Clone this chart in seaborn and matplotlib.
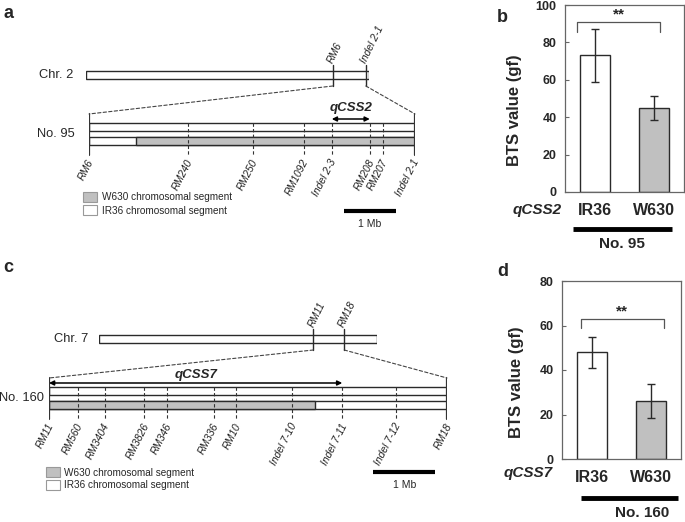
import matplotlib
matplotlib.use("Agg")
import matplotlib.pyplot as plt
from matplotlib.patches import Rectangle, Patch, ConnectionPatch
import seaborn as sns
import pandas as pd

W, H = 685, 522

# panel a: chromosome 2 overview and line No. 95 (positions in Mb)
chr2_len = 35.9
chr2_marks = ["RM6", "Indel 2-1"]
chr2_pos = [31.3, 35.5]
a_marks = ["RM6", "RM240", "RM250", "RM1092", "Indel 2-3", "RM208", "RM207", "Indel 2-1"]
a_pos = [0.0, 1.90, 3.15, 4.13, 4.67, 5.40, 5.65, 6.27]
a_w630 = [0.90, 6.27]
a_qtl = ["Indel 2-3", "RM208"]

# panel c: chromosome 7 overview and line No. 160
chr7_len = 29.7
chr7_marks = ["RM11", "RM18"]
chr7_pos = [22.9, 26.2]
c_marks = ["RM11", "RM560", "RM3404", "RM3826", "RM346", "RM336", "RM10",
           "Indel 7-10", "Indel 7-11", "Indel 7-12", "RM18"]
c_pos = [0.0, 0.47, 0.90, 1.53, 1.90, 2.66, 3.02, 3.92, 4.73, 5.60, 6.42]
c_w630 = [0.0, 4.29]
c_qtl = ["RM11", "Indel 7-11"]

# panels b, d: BTS values
genotypes = ["IR36", "W630"]
b_mean = [73, 45]
b_err = [14, 6.5]
d_mean = [48, 26]
d_err = [7, 7.5]

GRAY = "#c0c0c0"
EDGE = "#2a2a2a"

sns.set_theme(style="white")
plt.rcParams["font.family"] = ["Liberation Sans", "DejaVu Sans"]

fig = plt.figure(figsize=(W / 100, H / 100), dpi=100)


def px_axes(x0, x1, y0, y1, xlim, top=0):
    # axes placed by pixel box; y data = pixel rows relative to panel top
    ax = fig.add_axes([x0 / W, 1 - y1 / H, (x1 - x0) / W, (y1 - y0) / H])
    ax.set_xlim(*xlim)
    ax.set_ylim(y1 - top, y0 - top)
    ax.axis("off")
    return ax


def draw_map(ov, det, chr_len, ov_names, ov_pos, names, pos, w630, qtl, qname,
             chr_name, line_name, chr_lab_x, line_lab_x, qname_y):
    # chromosome overview
    ov.add_patch(Rectangle((0, 71), chr_len, 8, fc="white", ec=EDGE, lw=1))
    for n, p in zip(ov_names, ov_pos):
        ov.plot([p, p], [65, 86], color=EDGE, lw=1)
        ov.text(p - 0.3, 63, n, rotation=64, rotation_mode="anchor", ha="left",
                va="center", fontsize=7.5, style="italic", color="#222")
    ov.text(chr_lab_x, 75, chr_name, transform=ov.get_yaxis_transform(),
            ha="right", va="center", fontsize=9.3)
    # dashed zoom lines
    for p_ov, p_det in [(ov_pos[0], pos[0]), (ov_pos[-1], pos[-1])]:
        con = ConnectionPatch(xyA=(p_ov, 86), coordsA=ov.transData,
                              xyB=(p_det, 114), coordsB=det.transData,
                              color="#444", lw=0.8, ls=(0, (3, 2)))
        fig.add_artist(con)
    # detailed map
    full = pos[-1] - pos[0]
    for p in (pos[0], pos[-1]):
        det.plot([p, p], [114, 155], color="#333", lw=1.6)
    det.add_patch(Rectangle((pos[0], 123), full, 8, fc="white", ec=EDGE, lw=1))
    det.add_patch(Rectangle((pos[0], 137), full, 8, fc="white", ec=EDGE, lw=1))
    det.add_patch(Rectangle((w630[0], 137), w630[1] - w630[0], 8, fc=GRAY,
                            ec=EDGE, lw=1))
    for n, p in zip(names, pos):
        if p not in (pos[0], pos[-1]):
            det.plot([p, p], [123, 155], color="#333", lw=0.8, ls=(0, (3, 2)))
        det.text(p + 0.04, 160, n, rotation=63, rotation_mode="anchor",
                 ha="right", va="center", fontsize=7.5, style="italic", color="#222")
    q0 = pos[names.index(qtl[0])]
    q1 = pos[names.index(qtl[1])]
    det.annotate("", xy=(q0, 119), xytext=(q1, 119),
                 arrowprops=dict(arrowstyle="<|-|>", color="black", lw=1.1,
                                 mutation_scale=7, shrinkA=0, shrinkB=0))
    det.text((q0 + q1) / 2, qname_y, qname, ha="center", va="center",
             fontsize=9.5, weight="bold", style="italic")
    det.text(line_lab_x, 134, line_name, transform=det.get_yaxis_transform(),
             ha="right", va="center", fontsize=9.3)


def scale_bar(ax, x0, y):
    ax.plot([x0, x0 + 1], [y, y], color="black", lw=3, solid_capstyle="butt")
    ax.text(x0 + 0.5, y + 13, "1 Mb", ha="center", va="center", fontsize=7.5)


def seg_legend(x, y):
    handles = [Patch(fc=GRAY, ec="#999", lw=0.8), Patch(fc="white", ec="#999", lw=0.8)]
    fig.legend(handles, ["W630 chromosomal segment", "IR36 chromosomal segment"],
               loc="upper left", bbox_to_anchor=(x / W, 1 - y / H), frameon=False,
               borderpad=0, borderaxespad=0, handlelength=1.4, handleheight=1.2,
               handletextpad=0.45, labelspacing=0.25, fontsize=7.2)


# ---- panel a
ov_a = px_axes(86, 369, 55, 92, (0, chr2_len))
det_a = px_axes(89, 415, 100, 235, (a_pos[0], a_pos[-1]))
draw_map(ov_a, det_a, chr2_len, chr2_marks, chr2_pos, a_marks, a_pos, a_w630,
         a_qtl, "qCSS2", "Chr. 2", "No. 95", -0.045, -0.045, 108)
scale_bar(det_a, 4.90, 211)
seg_legend(83, 192)

# ---- panel c
ov_c = px_axes(99, 377, 319, 356, (0, chr7_len), top=264)
det_c = px_axes(49, 447, 364, 499, (c_pos[0], c_pos[-1]), top=264)
draw_map(ov_c, det_c, chr7_len, chr7_marks, chr7_pos, c_marks, c_pos, c_w630,
         c_qtl, "qCSS7", "Chr. 7", "No. 160", -0.04, -0.013, 111)
scale_bar(det_c, 5.23, 208)
seg_legend(46, 467)


# ---- bar panels
def bar_panel(box, mean, err, ymax, sig, ylab_xy, qname, qx, qy, line, line_y,
              name, name_x, name_y):
    x0, x1, y0, y1 = box
    ax = fig.add_axes([x0 / W, 1 - y1 / H, (x1 - x0) / W, (y1 - y0) / H])
    df = pd.DataFrame({"genotype": genotypes, "value": mean})
    sns.barplot(data=df, x="genotype", y="value", hue="genotype",
                palette=["white", GRAY], edgecolor=EDGE, linewidth=1, width=0.5,
                legend=False, ax=ax)
    ax.errorbar(range(len(mean)), mean, yerr=err, fmt="none", ecolor=EDGE,
                elinewidth=1, capsize=3, capthick=1)
    ax.set_xlim(-0.5, 1.5)
    ax.set_ylim(0, ymax)
    ax.set_yticks(range(0, ymax + 1, 20))
    ax.set_xlabel("")
    ax.set_ylabel("BTS value (gf)", fontsize=12, weight="bold")
    ax.yaxis.set_label_coords(*ylab_xy)
    ax.tick_params(axis="y", direction="in", length=3, width=0.8, color="#666",
                   labelsize=9, pad=6, left=True)
    ax.tick_params(axis="x", length=0, labelsize=11.5, pad=8)
    for lab in ax.get_xticklabels() + ax.get_yticklabels():
        lab.set_fontweight("bold")
    for s in ax.spines.values():
        s.set_color("#666")
        s.set_linewidth(0.9)
    # significance bracket
    bl, br, by, bh = sig
    ax.plot([bl, bl, br, br], [by - bh, by, by, by - bh], color="#555", lw=0.9)
    ax.text((bl + br) / 2, by + 0.3, "**", ha="center", va="bottom",
            fontsize=11, weight="bold")
    tr = ax.get_xaxis_transform()
    ax.text(qx, qy, qname, transform=tr, ha="center", va="center", fontsize=11,
            weight="bold", style="italic")
    ax.plot(line, [line_y, line_y], transform=tr, color="black", lw=3.5,
            clip_on=False, solid_capstyle="butt")
    ax.text(name_x, name_y, name, transform=tr, ha="center", va="center",
            fontsize=11, weight="bold")
    return ax


bar_panel((565, 684, 5, 192), b_mean, b_err, 100, (-0.3, 1.1, 91, 5.5), (-0.36, 0.44),
          "qCSS2", -0.97, -0.096, [-0.37, 1.30], -0.197, "No. 95", 0.46, -0.28)
bar_panel((562, 681, 281, 459), d_mean, d_err, 80, (-0.18, 1.21, 63, 4), (-0.32, 0.43),
          "qCSS7", -1.07, -0.079, [-0.18, 1.45], -0.219, "No. 160", 0.84, -0.305)

# panel letters
for letter, x, y in [("a", 3, 14), ("b", 497, 17), ("c", 3, 268), ("d", 497, 272)]:
    fig.text(x / W, 1 - y / H, letter, fontsize=13, weight="bold", va="center")

fig.savefig("out.png", dpi=100)
